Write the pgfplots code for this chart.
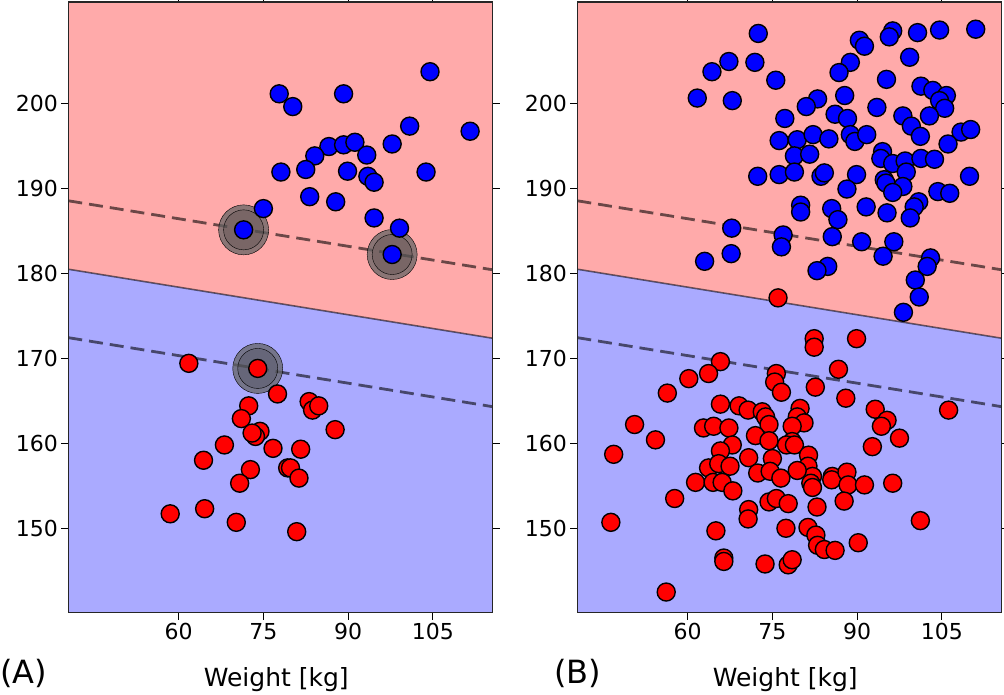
\documentclass[border=0pt]{standalone}
\usepackage{pgfplots}
\pgfplotsset{compat=1.18}
\usepackage{fontspec}
\setmainfont{DejaVu Sans}
\definecolor{pinkbg}{RGB}{255,170,170}
\definecolor{bluebg}{RGB}{170,170,255}
\definecolor{ptblue}{RGB}{0,0,255}
\definecolor{ptred}{RGB}{255,0,0}
\definecolor{haloc}{RGB}{100,100,100}

% ---------- Panel A data ----------
\pgfplotstableread{
x y
104.5 203.7
77.8 201.1
80.2 199.6
89.2 201.1
100.9 197.3
111.6 196.7
97.8 195.2
86.6 194.9
89.2 195.1
91.2 195.4
93.3 193.9
84.1 193.8
82.5 192.2
78.1 191.9
89.9 192.0
93.5 191.4
94.6 190.7
103.8 191.9
83.2 189.0
87.8 188.4
75.0 187.6
94.6 186.5
99.1 185.3
71.5 185.1
97.8 182.2
}\tblBlueA
\pgfplotstableread{
x y
61.8 169.4
74.0 168.8
77.5 165.8
72.4 164.4
83.1 164.9
83.7 163.9
84.8 164.4
71.1 162.9
87.7 161.6
74.4 161.4
73.6 160.8
73.0 161.2
68.1 159.8
76.7 159.4
81.6 159.3
64.4 158.0
72.7 156.9
79.3 157.1
79.8 157.1
81.3 155.9
70.8 155.3
58.5 151.7
64.6 152.3
70.2 150.7
80.9 149.6
}\tblRedA
\pgfplotstableread{
x y
71.5 185.1
97.8 182.2
74.0 168.8
}\tblSvA

% ---------- Panel B data ----------
\pgfplotstableread{
x y
72.5 208.2
96.3 208.5
95.7 207.8
100.7 208.3
104.6 208.6
111.0 208.7
90.4 207.4
91.3 206.7
67.3 204.9
64.3 203.7
71.9 204.8
75.6 202.7
99.3 205.4
88.8 204.8
86.8 203.6
95.2 202.8
61.7 200.6
67.9 200.3
87.8 200.9
101.3 202.0
103.4 201.5
105.8 200.9
104.6 200.3
105.5 199.4
83.0 200.5
81.0 199.6
93.5 199.5
98.1 198.5
99.6 197.3
101.2 196.1
102.8 198.5
77.2 198.2
86.1 198.7
88.3 198.2
108.4 196.6
110.1 196.9
106.1 195.2
76.2 195.6
79.4 195.7
82.2 196.3
85.0 195.8
88.8 196.3
89.6 195.5
91.7 196.3
78.9 193.8
81.6 194.0
94.5 194.3
94.2 193.5
96.3 192.9
98.5 193.2
101.3 193.5
103.7 193.4
98.7 191.9
72.4 191.4
76.2 191.6
78.9 191.9
83.6 191.4
84.2 191.8
89.9 191.6
109.9 191.4
94.8 191.0
95.1 190.6
98.1 190.2
96.3 189.5
88.2 189.9
104.3 189.6
106.4 189.4
100.9 188.4
100.1 187.8
99.4 186.5
80.0 188.0
80.0 187.2
85.5 187.6
86.6 186.3
91.6 187.8
95.3 187.1
67.8 185.3
76.9 184.5
76.6 183.1
85.6 184.3
90.8 183.7
96.5 183.7
94.6 182.0
103.0 181.8
102.4 180.8
63.0 181.4
67.7 182.3
84.8 180.8
82.9 180.3
100.3 179.2
101.0 177.2
98.2 175.4
}\tblBlueB
\pgfplotstableread{
x y
76.0 177.1
82.4 172.3
82.4 171.3
89.9 172.3
65.8 169.6
63.7 168.2
60.2 167.6
56.4 165.9
86.7 168.7
75.7 168.2
75.4 167.2
76.6 166.0
82.6 166.6
88.0 165.3
106.2 163.9
93.2 164.0
95.3 162.7
94.3 162.0
97.5 160.6
92.7 159.6
50.6 162.2
54.3 160.4
46.9 158.7
65.8 164.6
69.1 164.4
70.7 163.9
73.2 163.7
73.8 163.1
74.4 162.2
79.9 164.1
79.4 163.1
80.6 162.4
78.5 162.0
62.8 161.8
64.6 162.0
67.3 161.8
72.0 160.9
74.4 160.3
78.5 160.2
77.5 159.8
78.9 159.8
67.9 159.8
65.8 159.1
70.8 158.3
75.0 158.2
81.4 158.6
63.7 157.1
65.5 157.6
67.5 157.3
81.3 157.3
82.1 156.1
79.4 156.8
72.4 156.5
74.6 156.7
76.5 155.9
61.4 155.4
64.5 155.4
66.1 155.4
68.0 154.4
81.8 155.3
82.1 154.8
85.6 156.1
85.5 155.7
88.2 156.6
88.4 155.1
91.3 155.1
96.3 155.3
57.7 153.5
74.4 153.1
75.7 153.5
77.8 152.9
82.9 152.5
87.7 153.2
46.4 150.7
70.8 152.2
70.7 151.1
77.4 150.0
81.3 150.1
82.7 149.2
83.0 148.0
84.2 147.5
86.1 147.4
90.2 148.3
101.2 150.9
65.0 149.7
66.4 146.5
66.4 146.1
73.7 145.8
77.8 145.7
78.5 146.3
56.2 142.5
}\tblRedB

% ---------- separating line and margins (endpoints at xmin, xmax) ----------
\pgfplotstableread{
x y
40.46 180.47
115.6 172.35
}\tblHyper
\pgfplotstableread{
x y
40.46 188.52
115.6 180.40
}\tblMargUp
\pgfplotstableread{
x y
40.46 172.42
115.6 164.30
}\tblMargLo
\pgfplotstableread{
x y
40.46 140.07
40.46 180.47
115.6 172.35
115.6 140.07
}\tblRegion

\pgfplotsset{
  panel/.style={
    scale only axis, width=424.4pt, height=610.7pt,
    xmin=40.46, xmax=115.6, ymin=140.07, ymax=211.9,
    xtick={60,75,90,105}, ytick={150,160,170,180,190,200},
    tick align=outside, major tick length=7pt,
    tick style={black, line width=1pt},
    axis line style={line width=1.2pt, black!85},
    axis background/.style={fill=pinkbg},
    axis on top,
    ticklabel style={font=\fontsize{22}{26}\selectfont},
    /pgf/number format/assume math mode=true,
    /pgf/number format/1000 sep={},
    xlabel={Weight [kg]},
    xlabel style={font=\fontsize{25}{30}\selectfont, at={(axis description cs:0.49,0)}, anchor=base, yshift=-74pt},
    anchor=south west,
  },
  region/.style={draw=none, fill=bluebg},
  halo/.style={only marks, mark=*, mark size=25pt, mark options={fill=haloc, draw=none, fill opacity=0.75}},
  haloin/.style={only marks, mark=*, mark size=20pt, mark options={fill=black, draw=none, fill opacity=0.12}},
  bpts/.style={only marks, mark=*, mark size=9pt, mark options={fill=ptblue, draw=black, line width=1.4pt}},
  rpts/.style={only marks, mark=*, mark size=9pt, mark options={fill=ptred, draw=black, line width=1.4pt}},
  hyp/.style={black, opacity=0.55, line width=1.6pt},
  marg/.style={black, opacity=0.58, line width=2.8pt, dash pattern=on 14pt off 7pt},
}

\begin{document}
\begin{tikzpicture}
\useasboundingbox (0,0) rectangle (1004pt,694pt);
\begin{axis}[panel, at={(68.3pt,81.3pt)}]
  \addplot[region] table {\tblRegion} \closedcycle;
  \addplot[halo] table {\tblSvA};
  \addplot[haloin] table {\tblSvA};
  \addplot[bpts] table {\tblBlueA};
  \addplot[rpts] table {\tblRedA};
  \addplot[hyp] table {\tblHyper};
  \addplot[marg] table {\tblMargUp};
  \addplot[marg] table {\tblMargLo};
\end{axis}
\begin{axis}[panel, at={(577.3pt,81.3pt)}]
  \addplot[region] table {\tblRegion} \closedcycle;
  \addplot[bpts] table {\tblBlueB};
  \addplot[rpts] table {\tblRedB};
  \addplot[hyp] table {\tblHyper};
  \addplot[marg] table {\tblMargUp};
  \addplot[marg] table {\tblMargLo};
\end{axis}
\node[anchor=base west, inner sep=0pt, font=\fontsize{32}{38}\selectfont] at (0pt,11pt) {(A)};
\node[anchor=base west, inner sep=0pt, font=\fontsize{32}{38}\selectfont] at (554pt,11pt) {(B)};
\end{tikzpicture}
\end{document}
